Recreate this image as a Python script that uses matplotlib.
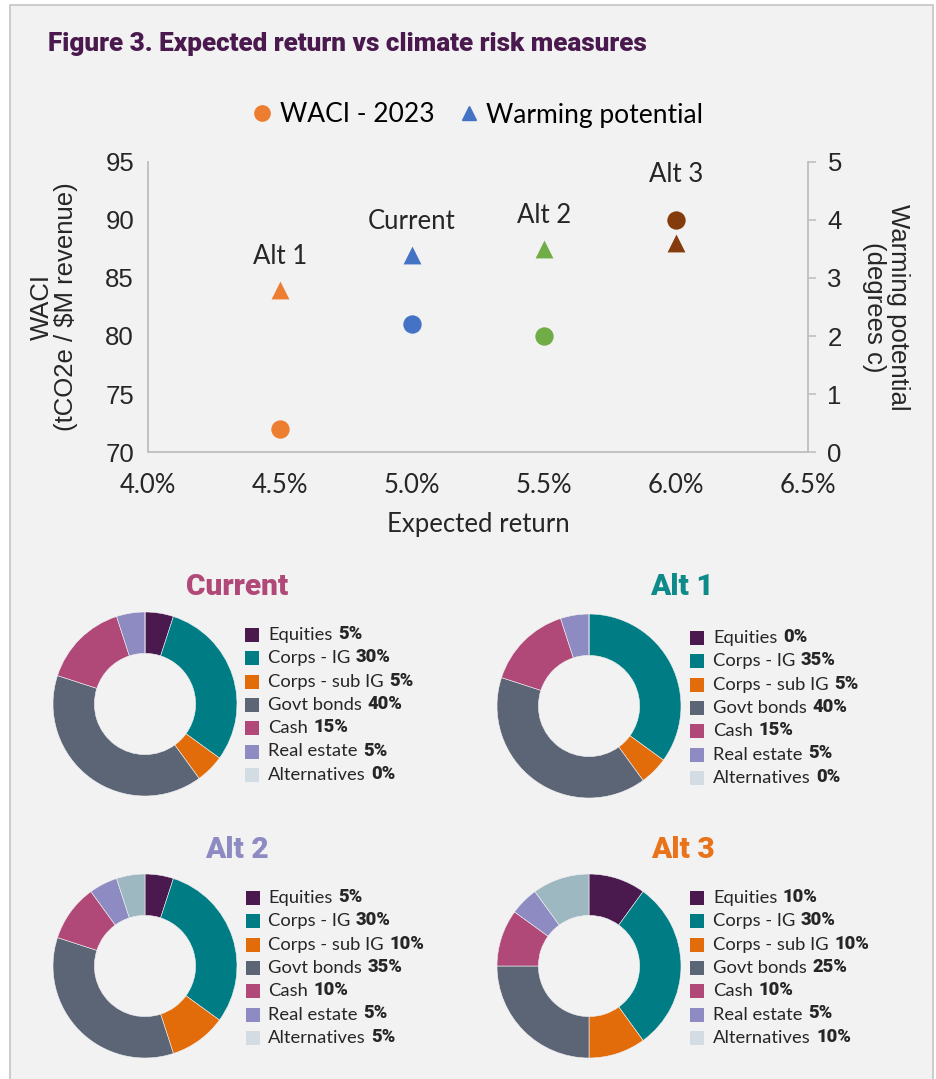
import matplotlib
matplotlib.use("Agg")
import matplotlib.pyplot as plt
from matplotlib.patches import Rectangle
from matplotlib.lines import Line2D
from matplotlib.ticker import FuncFormatter, MultipleLocator

# ---------------- data ----------------
portfolios = ["Current", "Alt 1", "Alt 2", "Alt 3"]
expected_return = [5.0, 4.5, 5.5, 6.0]          # %
waci_2023 = [81, 72, 80, 90]                    # tCO2e / $M revenue
warming_potential = [3.4, 2.8, 3.5, 3.6]        # degrees c
point_colors = ["#4472C4", "#ED7D31", "#70AD47", "#843C0C"]

asset_classes = ["Equities", "Corps - IG", "Corps - sub IG", "Govt bonds",
                 "Cash", "Real estate", "Alternatives"]
alloc_current = [5, 30, 5, 40, 15, 5, 0]
alloc_alt1 = [0, 35, 5, 40, 15, 5, 0]
alloc_alt2 = [5, 30, 10, 35, 10, 5, 5]
alloc_alt3 = [10, 30, 10, 25, 10, 5, 10]

wedge_colors = ["#4A1A4F", "#007C84", "#E36C0A", "#5C6576",
                "#B04977", "#8E8BC3", "#9DB8C0"]
swatch_colors = ["#4A1A4F", "#007C84", "#E36C0A", "#5C6576",
                 "#B04977", "#8E8BC3", "#D2DCE2"]

# ---------------- figure ----------------
W, H = 936, 1079
fig = plt.figure(figsize=(W / 100, H / 100), dpi=100, facecolor="white")

def rect(x0, y0, x1, y1):
    return [x0 / W, 1 - y1 / H, (x1 - x0) / W, (y1 - y0) / H]

def fx(x):
    return x / W

def fy(y):
    return 1 - y / H

BODY = "Lato"
HEAVY = "Roboto"
NUM = "Liberation Sans"
TXT = "#262626"
GRID = "#BFBFBF"

# panel background with thin frame
fig.patches.append(Rectangle((fx(10), -0.02), fx(933) - fx(10), fy(5) + 0.02,
                             transform=fig.transFigure, facecolor="#F2F2F2",
                             edgecolor="#C4C4C4", linewidth=1.2, zorder=-10))

fig.text(fx(48), fy(44), "Figure 3. Expected return vs climate risk measures",
         fontsize=18.8, fontweight="black", family=HEAVY, color="#4A1A4F",
         ha="left", va="center")

# ---------------- scatter ----------------
ax = fig.add_axes(rect(148, 162, 808, 452))
ax.set_facecolor("none")
ax.set_xlim(4.0, 6.5)
ax.set_ylim(70, 95)
ax2 = ax.twinx()
ax2.set_ylim(0, 5)

for s in ["top", "right"]:
    ax.spines[s].set_visible(False)
for s in ["top", "left", "bottom"]:
    ax2.spines[s].set_visible(False)
for sp in [ax.spines["left"], ax.spines["bottom"], ax2.spines["right"]]:
    sp.set_color(GRID)
    sp.set_linewidth(1.3)

ax.xaxis.set_major_locator(MultipleLocator(0.5))
ax.xaxis.set_major_formatter(FuncFormatter(lambda v, p: f"{v:.1f}%"))
ax.yaxis.set_major_locator(MultipleLocator(5))
ax2.yaxis.set_major_locator(MultipleLocator(1))
ax.tick_params(axis="x", length=0, pad=15, labelsize=18.5, labelcolor=TXT)
ax.tick_params(axis="y", length=0, pad=10, labelsize=18.5, labelcolor=TXT)
ax2.tick_params(axis="y", length=6, width=1.2, color=GRID, pad=8,
                labelsize=18.5, labelcolor=TXT)
for lbl in ax.get_xticklabels():
    lbl.set_family(BODY)
for lbl in ax.get_yticklabels() + ax2.get_yticklabels():
    lbl.set_family(NUM)

ax.set_xlabel("Expected return", fontsize=18.5, family=BODY, color=TXT, labelpad=10)
ax.set_ylabel("WACI\n(tCO2e / $M revenue)", fontsize=18.5, family=NUM,
              color=TXT, labelpad=20, linespacing=1.0)
ax2.set_ylabel("Warming potential\n(degrees c)", fontsize=18.5, family=NUM,
               color=TXT, rotation=-90, labelpad=49, linespacing=1.0)

for i in range(len(portfolios)):
    ax.scatter(expected_return[i], waci_2023[i], marker="o", s=175,
               color=point_colors[i], linewidths=0, zorder=3)
    ax2.scatter(expected_return[i], warming_potential[i], marker="^", s=165,
                color=point_colors[i], linewidths=0, zorder=3)

# name each portfolio above its upper marker
label_lift = [24, 24, 24, 33]  # points
for i, name in enumerate(portfolios):
    yc = ax.transData.transform((expected_return[i], waci_2023[i]))[1]
    yt = ax2.transData.transform((expected_return[i], warming_potential[i]))[1]
    if yt >= yc:
        target, yv = ax2, warming_potential[i]
    else:
        target, yv = ax, waci_2023[i]
    target.annotate(name, (expected_return[i], yv), xytext=(0, label_lift[i]),
                    textcoords="offset points", ha="center", va="center",
                    fontsize=18.5, family=BODY, color=TXT)

handles = [Line2D([], [], linestyle="none", marker="o", markersize=11,
                  color=point_colors[1]),
           Line2D([], [], linestyle="none", marker="^", markersize=10,
                  color=point_colors[0])]
fig.legend(handles, ["WACI - 2023", "Warming potential"], loc="center",
           bbox_to_anchor=(fx(476), fy(115)), ncol=2, frameon=False,
           handletextpad=0.15, columnspacing=0.8, handlelength=1.0,
           prop={"family": BODY, "size": 19})

# ---------------- allocation donuts ----------------
donuts = [
    ("Current", alloc_current, (145, 704), (237, 587), "#B04977", (245, 268, 635)),
    ("Alt 1", alloc_alt1, (589, 706), (682, 587), "#0E8A8A", (690, 713, 638)),
    ("Alt 2", alloc_alt2, (145, 966), (237, 850), "#8E8BC3", (246, 268, 898)),
    ("Alt 3", alloc_alt3, (589, 966), (683, 850), "#E8731A", (690, 713, 898)),
]
R = 92
ROW = 23.3
SW = 14

for title, alloc, (cx, cy), (tx, ty), tcolor, (sx, lx, y0) in donuts:
    dax = fig.add_axes(rect(cx - R, cy - R, cx + R, cy + R))
    dax.pie(alloc, colors=wedge_colors, startangle=90, counterclock=False,
            radius=1.0, wedgeprops=dict(width=0.45, edgecolor="#F2F2F2",
                                        linewidth=0.4))
    dax.set_xlim(-1, 1)
    dax.set_ylim(-1, 1)
    dax.set_aspect("equal")
    dax.axis("off")

    fig.text(fx(tx), fy(ty), title, fontsize=21.5, fontweight="black",
             family=HEAVY, color=tcolor, ha="center", va="center")

    for k, (name, val) in enumerate(zip(asset_classes, alloc)):
        yy = y0 + k * ROW
        fig.patches.append(Rectangle((fx(sx), fy(yy + SW / 2)), SW / W, SW / H,
                                     transform=fig.transFigure,
                                     facecolor=swatch_colors[k], edgecolor="none"))
        t = fig.text(fx(lx), fy(yy), name, fontsize=13.2, family=BODY,
                     color=TXT, ha="left", va="center")
        fig.add_artist(plt.Annotation(
            f"{val}%", xy=(1, 0), xycoords=t, xytext=(4, 0),
            textcoords="offset points", ha="left", va="bottom",
            fontsize=13.2, fontweight="black", family=HEAVY, color=TXT))

fig.savefig("out.png", dpi=100, facecolor=fig.get_facecolor())
